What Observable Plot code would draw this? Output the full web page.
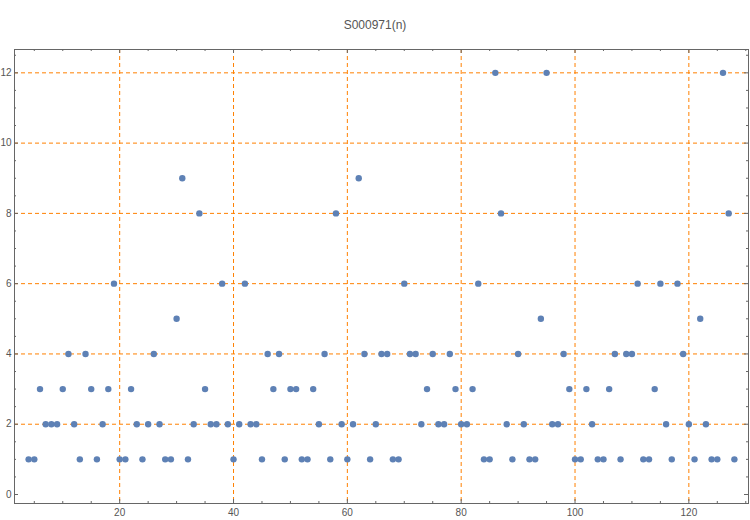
<!DOCTYPE html>
<html>
<head>
<meta charset="utf-8">
<script src="https://cdn.jsdelivr.net/npm/d3@7"></script>
<script src="https://cdn.jsdelivr.net/npm/@observablehq/plot@0.6"></script>
<style>
  html, body { margin: 0; padding: 0; background: #fff; }
  #wrap { position: relative; width: 750px; height: 520px; }
  #title { position: absolute; left: 0; top: 17px; width: 750px; text-align: center; z-index: 2;
           font: 12px "Liberation Sans", Arial, sans-serif; color: #555; line-height: 16px; }
</style>
</head>
<body>
<div id="wrap"><div id="title"></div></div>
<script>
const title = "S000971(n)";
const nValues = [4,5,6,7,8,9,10,11,12,13,14,15,16,17,18,19,20,21,22,23,24,25,26,27,28,29,30,31,32,33,34,35,36,37,38,39,40,41,42,43,44,45,46,47,48,49,50,51,52,53,54,55,56,57,58,59,60,61,62,63,64,65,66,67,68,69,70,71,72,73,74,75,76,77,78,79,80,81,82,83,84,85,86,87,88,89,90,91,92,93,94,95,96,97,98,99,100,101,102,103,104,105,106,107,108,109,110,111,112,113,114,115,116,117,118,119,120,121,122,123,124,125,126,127,128];
const sValues = [1,1,3,2,2,2,3,4,2,1,4,3,1,2,3,6,1,1,3,2,1,2,4,2,1,1,5,9,1,2,8,3,2,2,6,2,1,2,6,2,2,1,4,3,4,1,3,3,1,1,3,2,4,1,8,2,1,2,9,4,1,2,4,4,1,1,6,4,4,2,3,4,2,2,4,3,2,2,3,6,1,1,12,8,2,1,4,2,1,1,5,12,2,2,4,3,1,1,3,2,1,1,3,4,1,4,4,6,1,1,3,6,2,1,6,4,2,1,5,2,1,1,12,8,1];
const xTickLabels = [20,40,60,80,100,120];
const yTickLabels = [0,2,4,6,8,10,12];
const xMinorTicks = [5,10,15,25,30,35,45,50,55,65,70,75,85,90,95,105,110,115,125,130];
const yMinorTicks = [0.5,1,1.5,2.5,3,3.5,4.5,5,5.5,6.5,7,7.5,8.5,9,9.5,10.5,11,11.5,12.5];

const data = nValues.map((n, i) => ({n, s: sValues[i]}));

const W = 750, H = 520, mL = 14, mR = 2, mT = 49, mB = 17;
const innerH = H - mT - mB, innerW = W - mL - mR;
const frameColor = "#666";
const gridColor = "#ff8000";
const major = 4, minor = 2;

const chart = Plot.plot({
  width: W, height: H,
  marginLeft: mL, marginRight: mR, marginTop: mT, marginBottom: mB,
  style: {fontFamily: "'Liberation Sans', Arial, sans-serif", fontSize: "10px", background: "transparent", color: "#555"},
  x: {domain: [1.52, 130.48], label: null},
  y: {domain: [-0.256, 12.664], label: null},
  marks: [
    Plot.ruleX(xTickLabels, {stroke: gridColor, strokeWidth: 1, strokeDasharray: "4,3"}),
    Plot.ruleY(yTickLabels.filter(v => v > 0), {stroke: gridColor, strokeWidth: 1, strokeDasharray: "4,3"}),
    Plot.dot(data, {x: "n", y: "s", r: 3.2, fill: "#5e81b5", stroke: "none"}),
    Plot.frame({stroke: frameColor, strokeWidth: 1}),
    Plot.tickX(xTickLabels, {x: d => d, insetTop: innerH - major, stroke: frameColor}),
    Plot.tickX(xMinorTicks, {x: d => d, insetTop: innerH - minor, stroke: frameColor}),
    Plot.tickX(xTickLabels, {x: d => d, insetBottom: innerH - major, stroke: frameColor}),
    Plot.tickX(xMinorTicks, {x: d => d, insetBottom: innerH - minor, stroke: frameColor}),
    Plot.tickY(yTickLabels, {y: d => d, insetRight: innerW - major, stroke: frameColor}),
    Plot.tickY(yMinorTicks, {y: d => d, insetRight: innerW - minor, stroke: frameColor}),
    Plot.tickY(yTickLabels, {y: d => d, insetLeft: innerW - major, stroke: frameColor}),
    Plot.tickY(yMinorTicks, {y: d => d, insetLeft: innerW - minor, stroke: frameColor}),
    Plot.axisX({ticks: xTickLabels, tickSize: 0, tickPadding: 5, fill: "#555", label: null}),
    Plot.axisY({ticks: yTickLabels, tickSize: 0, tickPadding: 3, fill: "#555", label: null})
  ]
});
chart.style.position = "absolute";
chart.style.left = "0";
chart.style.top = "0";
const wrap = document.getElementById("wrap");
wrap.insertBefore(chart, wrap.firstChild);
document.getElementById("title").textContent = title;
</script>
</body>
</html>
